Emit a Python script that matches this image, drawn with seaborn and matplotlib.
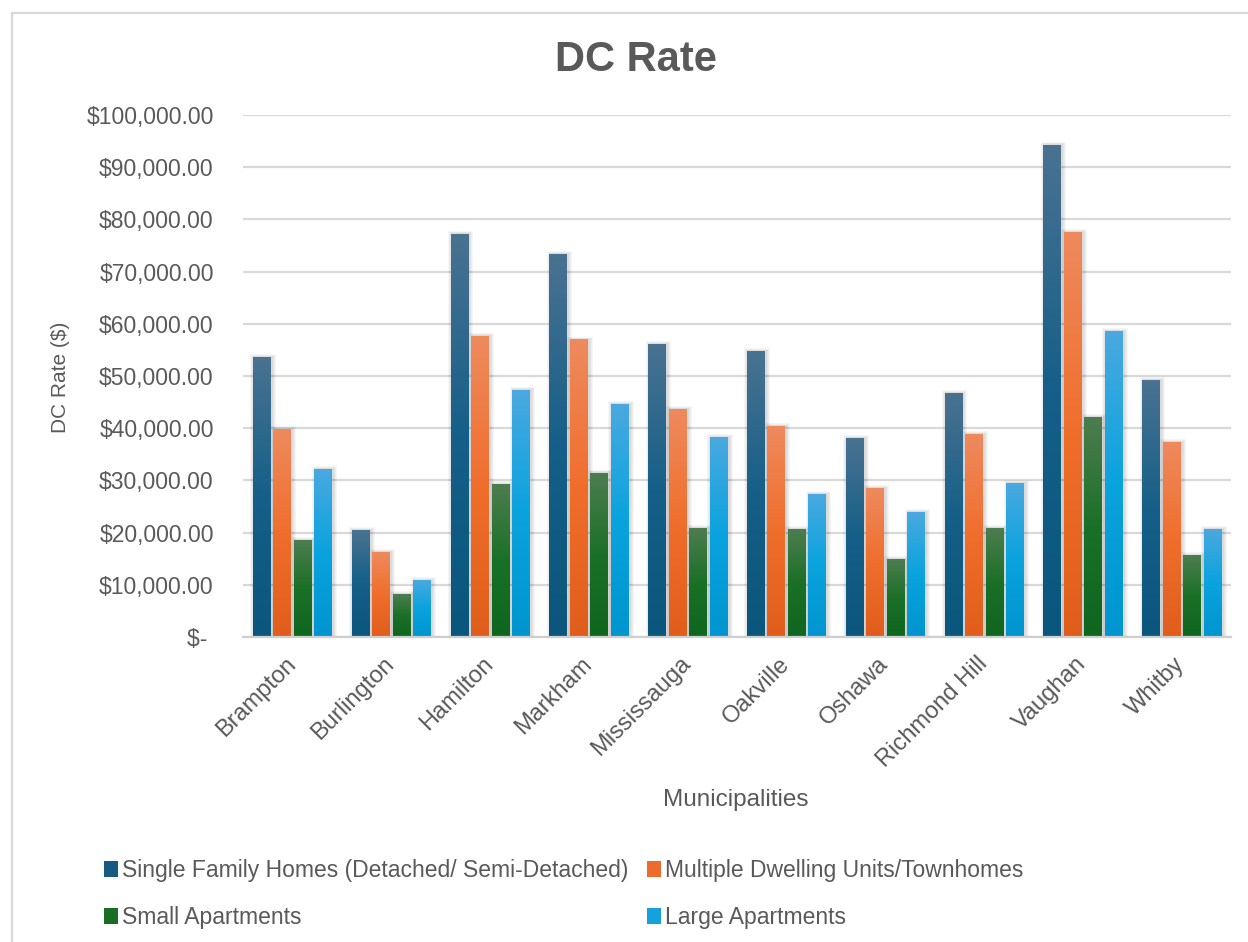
import numpy as np
import pandas as pd
import matplotlib
matplotlib.use("Agg")
import matplotlib.pyplot as plt
import seaborn as sns
from matplotlib.patches import Rectangle, Patch
from matplotlib.colors import LinearSegmentedColormap
from matplotlib.ticker import FuncFormatter, MultipleLocator

# ---------------- data ----------------
municipalities = ["Brampton", "Burlington", "Hamilton", "Markham", "Mississauga",
                  "Oakville", "Oshawa", "Richmond Hill", "Vaughan", "Whitby"]
single_family = [53600, 20450, 77200, 73350, 56100, 54750, 38100, 46700, 94250, 49200]
multiple_dwelling = [39800, 16250, 57650, 56900, 43650, 40400, 28500, 38850, 77550, 37300]
small_apartments = [18550, 8200, 29250, 31400, 20850, 20650, 14900, 20850, 42100, 15650]
large_apartments = [32150, 10850, 47300, 44600, 38250, 27350, 23900, 29450, 58600, 20650]
series_names = ["Single Family Homes (Detached/ Semi-Detached)",
                "Multiple Dwelling Units/Townhomes",
                "Small Apartments", "Large Apartments"]

df = pd.DataFrame({
    "Municipality": municipalities * 4,
    "Rate": single_family + multiple_dwelling + small_apartments + large_apartments,
    "Type": sum([[n] * len(municipalities) for n in series_names], []),
})

# ---------------- styles ----------------
legend_colors = ["#175b82", "#ee6c2b", "#1a6e24", "#14a2dd"]
grad_stops = [  # bottom, middle, top
    ["#0b567c", "#155f88", "#4a7291"],
    ["#e05d1c", "#f06e2c", "#ee8a5e"],
    ["#0f661e", "#1b7027", "#4d7d50"],
    ["#0095cf", "#09a3de", "#4aa9e0"],
]
text_color = "#595959"
grid_color = "#d9d9d9"

W, H, DPI = 1248, 942, 100
sns.set_theme(style="white")
plt.rcParams["font.family"] = ["Liberation Sans", "DejaVu Sans"]

fig = plt.figure(figsize=(W / DPI, H / DPI), dpi=DPI)
ax_left, ax_right, ax_top, ax_bot = 243, 1231, 115, 637
ax = fig.add_axes([ax_left / W, 1 - ax_bot / H, (ax_right - ax_left) / W, (ax_bot - ax_top) / H])

sns.barplot(data=df, x="Municipality", y="Rate", hue="Type", hue_order=series_names,
            palette=legend_colors, width=0.83, gap=0.15, saturation=1,
            edgecolor="none", linewidth=0, legend=False, ax=ax, zorder=3)

ax.set_xlim(-0.5, 9.5)
ax.set_ylim(0, 100000)

px_x = 10.0 / (ax_right - ax_left)
px_y = 100000.0 / (ax_bot - ax_top)

grad = np.linspace(0, 1, 256).reshape(-1, 1)
for cont, stops in zip(ax.containers, grad_stops):
    cmap = LinearSegmentedColormap.from_list("g", [(0, stops[0]), (0.5, stops[1]), (1, stops[2])])
    for rect in cont:
        x0, w, h = rect.get_x(), rect.get_width(), rect.get_height()
        # soft shadow
        for k in range(1, 5):
            ax.add_patch(Rectangle((x0 - k * px_x + 1.5 * px_x, 0), w + 2 * k * px_x,
                                   h + k * px_y * 0.8, facecolor="#000000", alpha=0.035,
                                   edgecolor="none", zorder=2))
        ax.imshow(grad, cmap=cmap, extent=[x0, x0 + w, 0, h], origin="lower",
                  aspect="auto", zorder=4, interpolation="bilinear")

ax.set_xlim(-0.5, 9.5)
ax.set_ylim(0, 100000)

ax.yaxis.set_major_locator(MultipleLocator(10000))
ax.yaxis.set_major_formatter(FuncFormatter(lambda v, p: "$- " if v == 0 else f"${v:,.2f}"))
ax.grid(axis="y", color=grid_color, linewidth=1.6)
ax.grid(axis="x", visible=False)
ax.set_axisbelow(True)
for s in ["top", "right", "left"]:
    ax.spines[s].set_visible(False)
ax.spines["bottom"].set_color("#cfcfcf")
ax.spines["bottom"].set_linewidth(1.6)
ax.spines["bottom"].set_zorder(5)

ax.tick_params(axis="y", length=0, pad=21, labelsize=16.5, labelcolor=text_color)
ax.tick_params(axis="x", length=0, pad=17, labelsize=17, labelcolor=text_color)
for lbl in ax.get_xticklabels():
    lbl.set_rotation(45)
    lbl.set_ha("right")
    lbl.set_va("center")
    lbl.set_rotation_mode("anchor")
ax.set_xlabel("")
ax.set_ylabel("")

fig.text(636 / W, 1 - 60 / H, "DC Rate", ha="center", va="center", fontsize=30,
         fontweight="bold", color=text_color)
fig.text(60 / W, 1 - 377 / H, "DC Rate ($)", ha="center", va="center", rotation=90,
         fontsize=15, color=text_color)
fig.text(736 / W, 1 - 800 / H, "Municipalities", ha="center", va="center",
         fontsize=17.5, color=text_color)

# legend filled row by row: (SF, MD) / (SA, LA)
order = [0, 2, 1, 3]
handles = [Patch(facecolor=legend_colors[i], edgecolor="none") for i in order]
labels = [series_names[i] for i in order]
fig.legend(handles, labels, loc="upper left", bbox_to_anchor=(104 / W, 1 - 859 / H),
           ncol=2, frameon=False, fontsize=16.5, handlelength=0.6, handleheight=0.75,
           handletextpad=0.2, columnspacing=0.8, labelspacing=1.05, borderpad=0,
           borderaxespad=0, labelcolor=text_color)

fig.patches.append(Rectangle((12 / W, -0.05), 1.2, 1 - 13 / H + 0.05, transform=fig.transFigure,
                             fill=False, edgecolor=grid_color, linewidth=1.6, zorder=0))

fig.savefig("out.png", dpi=DPI, facecolor="white")
